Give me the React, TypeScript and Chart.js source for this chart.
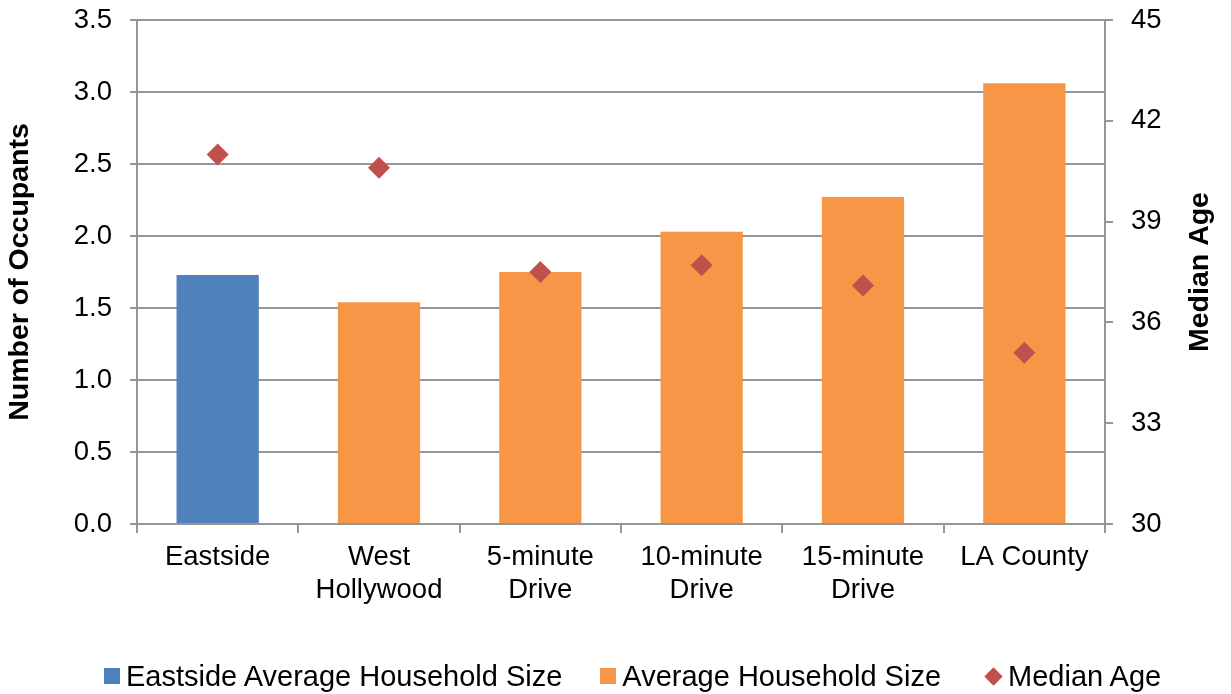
import React, { useEffect, useRef } from "react";
import { Chart, registerables } from "chart.js";

Chart.register(...registerables);

const categories: string[][] = [
  ["Eastside"],
  ["West", "Hollywood"],
  ["5-minute", "Drive"],
  ["10-minute", "Drive"],
  ["15-minute", "Drive"],
  ["LA County"],
];
const eastsideHouseholdSize: (number | null)[] = [1.73, null, null, null, null, null];
const averageHouseholdSize: (number | null)[] = [null, 1.54, 1.75, 2.03, 2.27, 3.06];
const medianAge: number[] = [41.0, 40.6, 37.5, 37.7, 37.1, 35.1];

const leftTicks = { min: 0, max: 3.5, step: 0.5 };
const rightTicks = { min: 30, max: 45, step: 3 };

const leftTitle = "Number of Occupants";
const rightTitle = "Median Age";
const legendLabels = ["Eastside Average Household Size", "Average Household Size", "Median Age"];

const BLUE = "#4F81BD";
const ORANGE = "#F79646";
const RED = "#C0504D";
const GRID = "#969696";
const FONT = '"Liberation Sans", Arial, Helvetica, sans-serif';

const titlePlugin = {
  id: "axisTitlesCustom",
  afterDraw(chart: any) {
    const { ctx, chartArea } = chart;
    const cy = (chartArea.top + chartArea.bottom) / 2;
    ctx.save();
    ctx.font = `bold 28.5px ${FONT}`;
    ctx.fillStyle = "#000";
    ctx.textAlign = "center";
    ctx.textBaseline = "middle";
    ctx.save();
    ctx.translate(20, cy);
    ctx.rotate(-Math.PI / 2);
    ctx.fillText(leftTitle, 0, 0);
    ctx.restore();
    ctx.save();
    ctx.translate(1200, cy);
    ctx.rotate(-Math.PI / 2);
    ctx.fillText(rightTitle, 0, 0);
    ctx.restore();
    ctx.restore();
  },
};

export default function App() {
  const canvasRef = useRef<HTMLCanvasElement | null>(null);

  useEffect(() => {
    if (!canvasRef.current) return;
    Chart.defaults.color = "#000";
    Chart.defaults.font.family = FONT;
    const chart = new Chart(canvasRef.current, {
      type: "bar",
      data: {
        labels: categories as any,
        datasets: [
          {
            type: "line",
            label: legendLabels[2],
            data: medianAge,
            yAxisID: "y1",
            showLine: false,
            pointStyle: "rectRot",
            pointRadius: 11,
            pointBackgroundColor: RED,
            pointBorderWidth: 0,
            borderWidth: 0,
            backgroundColor: RED,
            borderColor: RED,
            order: 0,
          } as any,
          {
            type: "bar",
            label: legendLabels[0],
            data: eastsideHouseholdSize,
            backgroundColor: BLUE,
            borderWidth: 0,
            yAxisID: "y",
            grouped: false,
            categoryPercentage: 1,
            barPercentage: 0.51,
            order: 1,
          } as any,
          {
            type: "bar",
            label: legendLabels[1],
            data: averageHouseholdSize,
            backgroundColor: ORANGE,
            borderWidth: 0,
            yAxisID: "y",
            grouped: false,
            categoryPercentage: 1,
            barPercentage: 0.51,
            order: 1,
          } as any,
        ],
      },
      options: {
        responsive: false,
        animation: false,
        layout: { padding: { top: 20, bottom: 70, left: 0, right: 0 } },
        plugins: {
          legend: { display: false },
          tooltip: { enabled: false },
        },
        scales: {
          x: {
            offset: true,
            grid: {
              display: true,
              drawOnChartArea: false,
              drawTicks: true,
              tickLength: 9,
              color: GRID,
              lineWidth: 2,
              offset: true,
            },
            border: { display: true, color: GRID, width: 2 },
            ticks: {
              font: { size: 27.5 },
              padding: 8,
              maxRotation: 0,
              autoSkip: false,
            },
            afterFit: (s: any) => {
              s.height = 100;
              s.paddingLeft = 0;
              s.paddingRight = 0;
            },
          },
          y: {
            position: "left",
            min: leftTicks.min,
            max: leftTicks.max,
            grid: {
              color: GRID,
              lineWidth: 2,
              tickLength: 7,
              drawTicks: true,
            },
            border: { display: true, color: GRID, width: 2 },
            ticks: {
              stepSize: leftTicks.step,
              font: { size: 27.5 },
              padding: 18,
              callback: (v: any) => Number(v).toFixed(1),
            },
            afterFit: (s: any) => {
              s.width = 137;
              s.paddingTop = 0;
              s.paddingBottom = 0;
            },
          },
          y1: {
            position: "right",
            min: rightTicks.min,
            max: rightTicks.max,
            grid: {
              drawOnChartArea: false,
              color: GRID,
              lineWidth: 2,
              tickLength: 8,
              drawTicks: true,
            },
            border: { display: true, color: GRID, width: 2 },
            ticks: {
              stepSize: rightTicks.step,
              font: { size: 27.5 },
              padding: 18,
            },
            afterFit: (s: any) => {
              s.width = 126;
              s.paddingTop = 0;
              s.paddingBottom = 0;
            },
          },
        },
      },
      plugins: [titlePlugin],
    });
    return () => chart.destroy();
  }, []);

  const itemText: React.CSSProperties = { whiteSpace: "nowrap" };

  return (
    <div
      style={{
        position: "absolute",
        left: 0,
        top: 0,
        width: 1231,
        height: 694,
        background: "#fff",
        overflow: "hidden",
      }}
    >
      <canvas ref={canvasRef} width={1231} height={694} style={{ display: "block" }} />
      <div
        style={{
          position: "absolute",
          left: 104,
          top: 659,
          height: 34,
          display: "flex",
          alignItems: "center",
          fontFamily: FONT,
          fontSize: 29,
          lineHeight: "34px",
          color: "#000",
        }}
      >
        <span style={{ width: 16, height: 16, background: BLUE, marginRight: 6, display: "inline-block" }} />
        <span style={itemText}>{legendLabels[0]}</span>
        <span style={{ width: 16, height: 16, background: ORANGE, marginLeft: 38, marginRight: 6, display: "inline-block" }} />
        <span style={itemText}>{legendLabels[1]}</span>
        <span
          style={{
            width: 13,
            height: 13,
            background: RED,
            marginLeft: 46,
            marginRight: 8,
            display: "inline-block",
            transform: "rotate(45deg)",
          }}
        />
        <span style={itemText}>{legendLabels[2]}</span>
      </div>
    </div>
  );
}
